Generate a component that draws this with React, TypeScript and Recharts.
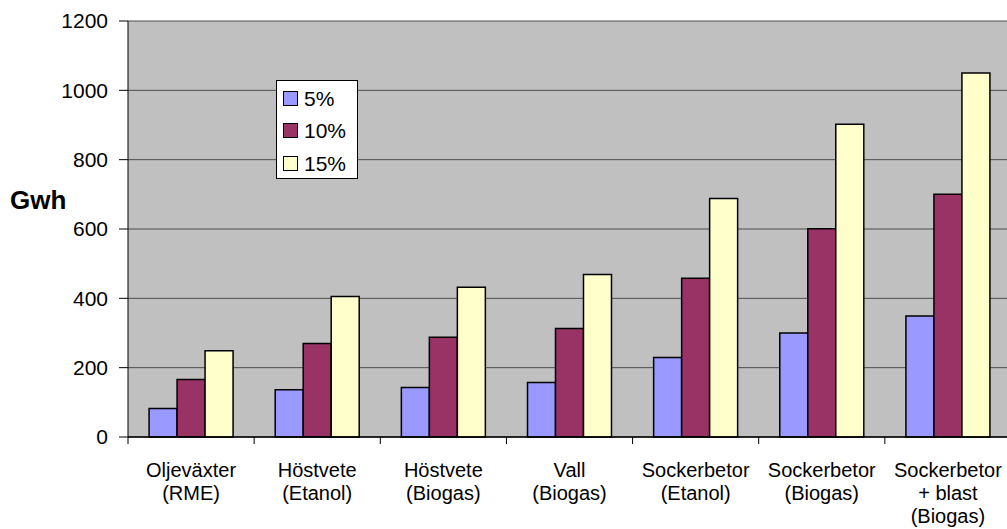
import React from 'react';
import { BarChart, Bar, XAxis, YAxis, CartesianGrid, Legend, Label } from 'recharts';

const categories = [
  'Oljeväxter\n(RME)',
  'Höstvete\n(Etanol)',
  'Höstvete\n(Biogas)',
  'Vall\n(Biogas)',
  'Sockerbetor\n(Etanol)',
  'Sockerbetor\n(Biogas)',
  'Sockerbetor\n+ blast\n(Biogas)',
];
const pct5 = [82, 136, 143, 157, 229, 300, 349];
const pct10 = [166, 270, 288, 313, 458, 601, 700];
const pct15 = [249, 405, 432, 469, 688, 902, 1050];
const yTicks = [0, 200, 400, 600, 800, 1000, 1200];

const series = [
  { key: 'p5', name: '5%', color: '#9999FF', values: pct5 },
  { key: 'p10', name: '10%', color: '#993366', values: pct10 },
  { key: 'p15', name: '15%', color: '#FFFFCC', values: pct15 },
];

const data = categories.map((c, i) => ({
  name: c,
  p5: pct5[i],
  p10: pct10[i],
  p15: pct15[i],
}));

const FONT = '"Liberation Sans", Arial, sans-serif';

function CategoryTick(props: any) {
  const { x, y, payload } = props;
  const half = payload?.offset ?? 63;
  const lines = String(payload.value).split('\n');
  return (
    <g>
      <line x1={x - half} y1={y} x2={x - half} y2={y + 7} stroke="#000" strokeWidth={1} />
      <text x={x} y={y + 40} textAnchor="middle" fontSize={20} fill="#000" fontFamily={FONT}>
        {lines.map((l, i) => (
          <tspan key={i} x={x} dy={i === 0 ? 0 : 23}>
            {l}
          </tspan>
        ))}
      </text>
    </g>
  );
}

function LegendBox() {
  return (
    <div
      style={{
        boxSizing: 'border-box',
        width: 82,
        height: 99,
        background: '#fff',
        border: '1px solid #000',
        padding: '1px 0 0 6px',
        fontFamily: FONT,
        fontSize: 21,
        color: '#000',
      }}
    >
      {series.map((s) => (
        <div key={s.key} style={{ height: 32.5, display: 'flex', alignItems: 'center' }}>
          <span
            style={{
              boxSizing: 'border-box',
              width: 15,
              height: 15,
              background: s.color,
              border: '1px solid #000',
              display: 'inline-block',
            }}
          />
          <span style={{ marginLeft: 6, lineHeight: '21px' }}>{s.name}</span>
        </div>
      ))}
    </div>
  );
}

export default function App() {
  return (
    <div style={{ position: 'absolute', left: 0, top: 0, width: 1007, height: 529, overflow: 'hidden', background: '#fff' }}>
      <BarChart
        width={1015}
        height={529}
        data={data}
        margin={{ top: 21, right: 4, bottom: 0, left: 0 }}
        barCategoryGap="16.7%"
        barGap={0}
      >
        <CartesianGrid vertical={false} fill="#C0C0C0" stroke="#4d4d4d" strokeWidth={1} />
        <XAxis
          dataKey="name"
          height={92}
          interval={0}
          tickLine={false}
          tickSize={0}
          tickMargin={0}
          axisLine={{ stroke: '#000', strokeWidth: 1.5 }}
          tick={<CategoryTick />}
        />
        <YAxis
          width={128}
          domain={[0, 1200]}
          ticks={yTicks}
          interval={0}
          tickSize={9}
          tickMargin={11}
          axisLine={{ stroke: '#000', strokeWidth: 1 }}
          tickLine={{ stroke: '#000' }}
          tick={{ fontSize: 21, fill: '#000', fontFamily: FONT }}
        >
          <Label
            value="Gwh"
            position="insideLeft"
            offset={10}
            dy={-29}
            style={{ fontSize: 26, fontWeight: 'bold', fill: '#000', fontFamily: FONT, textAnchor: 'start' }}
          />
        </YAxis>
        <Legend
          layout="vertical"
          align="center"
          verticalAlign="middle"
          content={() => <LegendBox />}
          wrapperStyle={{ position: 'absolute', left: 276, top: 80, width: 82, height: 99 }}
        />
        {series.map((s) => (
          <Bar
            key={s.key}
            dataKey={s.key}
            name={s.name}
            fill={s.color}
            stroke="#000"
            strokeWidth={1.5}
            isAnimationActive={false}
          />
        ))}
      </BarChart>
    </div>
  );
}
